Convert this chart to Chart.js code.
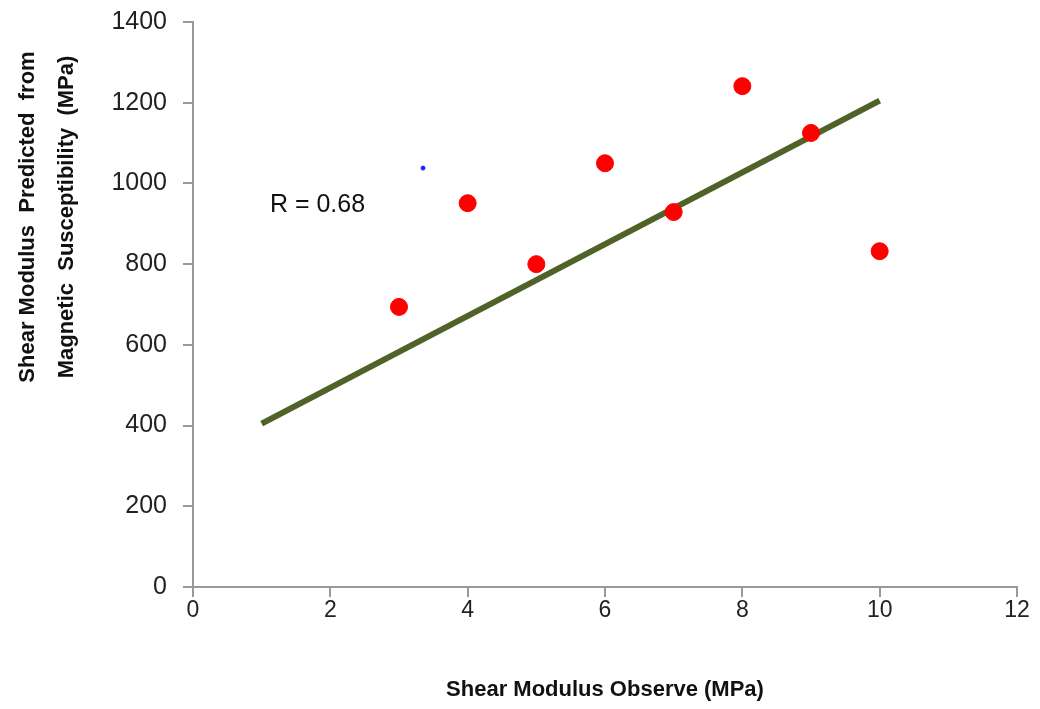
<!DOCTYPE html>
<html>
<head>
<meta charset="utf-8">
<script src="https://cdn.jsdelivr.net/npm/chart.js@4.4.0/dist/chart.umd.min.js"></script>
<style>
  html, body { margin: 0; padding: 0; background: #fff; }
  canvas { display: block; }
</style>
</head>
<body>
<canvas id="myChart" width="1040" height="709"></canvas>
<script>
// observed vs predicted shear modulus
const observed = [3, 4, 5, 6, 7, 8, 9, 10];
const predicted = [694, 951, 800, 1050, 929, 1241, 1125, 832];
// fitted line end points
const trendX = [1, 10];
const trendY = [405, 1205];
// the stray small blue marker
const strayX = [3.35];
const strayY = [1038];

const xTicks = [0, 2, 4, 6, 8, 10, 12];
const yTicks = [0, 200, 400, 600, 800, 1000, 1200, 1400];

const FONT = "'Liberation Sans', Arial, sans-serif";

function pts(xs, ys) {
    return xs.map(function (x, i) { return { x: x, y: ys[i] }; });
}

// y title sits above centre in the original, so draw it by hand
const extraText = {
    id: 'extraText',
    afterDraw: function (chart) {
        const c = chart.ctx;
        const xs = chart.scales.x, ys = chart.scales.y;
        c.save();
        c.fillStyle = '#111';
        c.font = 'bold 22px ' + FONT;
        c.textAlign = 'center';
        c.textBaseline = 'middle';
        c.translate(0, 217);
        c.rotate(-Math.PI / 2);
        c.fillText('Shear Modulus  Predicted  from', 0, 28);
        c.fillText('Magnetic  Susceptibility  (MPa)', 0, 67);
        c.restore();

        c.save();
        c.fillStyle = '#111';
        c.font = '25px ' + FONT;
        c.textAlign = 'left';
        c.textBaseline = 'middle';
        c.fillText('R = 0.68', xs.getPixelForValue(1.12), ys.getPixelForValue(946));
        c.restore();
    }
};

const ctx = document.getElementById('myChart').getContext('2d');
const myChart = new Chart(ctx, {
    type: 'scatter',
    data: {
        datasets: [{
            label: 'Trend',
            type: 'line',
            data: pts(trendX, trendY),
            borderColor: '#4f6228',
            borderWidth: 6,
            pointRadius: 0,
            fill: false,
            order: 2
        }, {
            label: 'Observed',
            data: pts(observed, predicted),
            backgroundColor: '#ff0000',
            borderColor: '#ff0000',
            pointRadius: 8.5,
            order: 1
        }, {
            label: 'Stray',
            data: pts(strayX, strayY),
            backgroundColor: '#1f1fff',
            borderColor: '#1f1fff',
            pointRadius: 2,
            order: 1
        }]
    },
    options: {
        responsive: false,
        animation: false,
        layout: { padding: { top: 22, right: 23, left: 0, bottom: 0 } },
        plugins: {
            legend: { display: false },
            tooltip: { enabled: false }
        },
        scales: {
            x: {
                type: 'linear',
                min: 0,
                max: 12,
                afterBuildTicks: function (s) { s.ticks = xTicks.map(function (v) { return { value: v }; }); },
                afterFit: function (s) { s.height = 122; },
                grid: { drawOnChartArea: false, drawTicks: true, tickLength: 10, color: '#999', lineWidth: 2 },
                border: { color: '#999', width: 2 },
                ticks: { color: '#222', font: { family: FONT, size: 23 }, padding: 0, maxRotation: 0,
                         callback: function (v) { return String(v); } },
                title: {
                    display: true,
                    text: 'Shear Modulus Observe (MPa)',
                    color: '#111',
                    font: { family: FONT, size: 22, weight: 'bold' },
                    padding: { top: 23, bottom: 6 }
                }
            },
            y: {
                type: 'linear',
                min: 0,
                max: 1400,
                afterBuildTicks: function (s) { s.ticks = yTicks.map(function (v) { return { value: v }; }); },
                afterFit: function (s) { s.width = 193; s.paddingTop = 0; s.paddingBottom = 0; },
                grid: { drawOnChartArea: false, drawTicks: true, tickLength: 10, color: '#999', lineWidth: 2 },
                border: { color: '#999', width: 2 },
                ticks: { color: '#222', font: { family: FONT, size: 25 }, padding: 16,
                         callback: function (v) { return String(v); } }
            }
        }
    },
    plugins: [extraText]
});
</script>
</body>
</html>
